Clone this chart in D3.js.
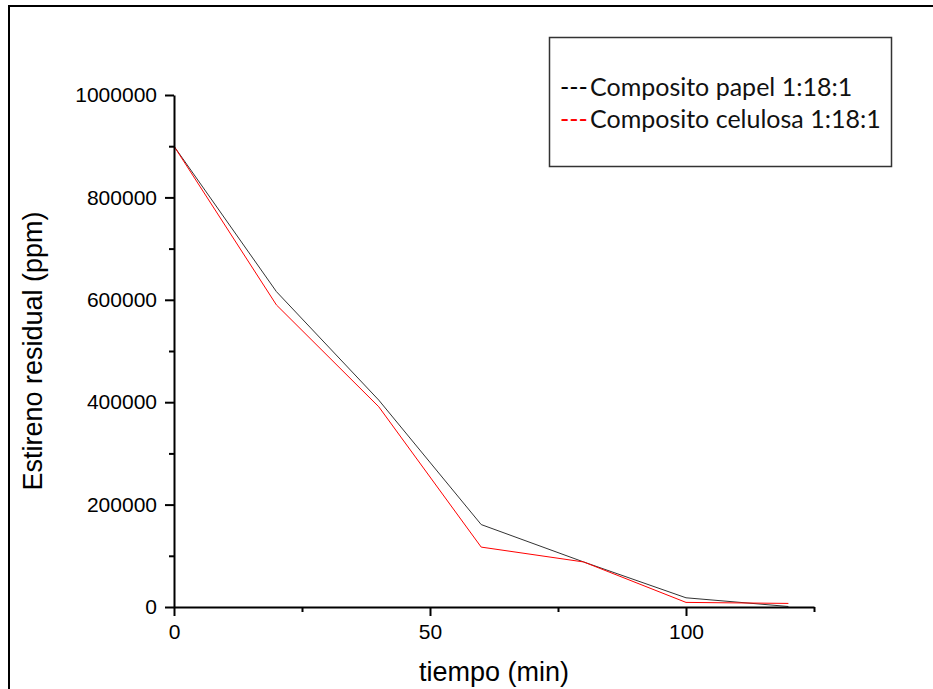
<!DOCTYPE html>
<html>
<head>
<meta charset="utf-8">
<script src="https://cdn.jsdelivr.net/npm/d3@7"></script>
<style>
  body { margin: 0; background: #fff; }
</style>
</head>
<body>
<div id="chart-area"></div>
<script>
// tiempo (min)
var tiempo = [0, 20, 40, 60, 80, 100, 120];
var papel = [900000, 616000, 404000, 161000, 88000, 18000, 1000];
var celulosa = [900000, 590000, 391000, 117000, 88000, 9000, 7000];
var seriesNames = ["Composito papel 1:18:1", "Composito celulosa 1:18:1"];
var seriesColors = ["#333333", "#ff0000"];
var xTicks = [0, 50, 100];
var xMinor = [25, 75, 125];
var yTicks = [0, 200000, 400000, 600000, 800000, 1000000];
var yMinor = [100000, 300000, 500000, 700000, 900000];

var width = 933;
var height = 689;
var margin = { top: 95, right: 119, bottom: 82, left: 174 };
var charWidth = 814 - margin.left;
var charHeight = 607 - margin.top;

var svg = d3.select("#chart-area")
  .append("svg")
  .attr("width", width)
  .attr("height", height);

// outer frame (top + left only)
svg.append("path")
  .attr("d", "M9,689 V6 H933")
  .attr("fill", "none")
  .attr("stroke", "#000")
  .attr("stroke-width", 2);

var g = svg.append("g")
  .attr("transform", "translate(" + margin.left + ", " + margin.top + ")");

var x = d3.scaleLinear()
  .domain([0, 125])
  .range([0, charWidth]);

var y = d3.scaleLinear()
  .domain([0, 1000000])
  .range([charHeight, 0]);

var series = [papel, celulosa];
var line = d3.line()
  .x((d, i) => x(tiempo[i]))
  .y(d => y(d));

g.selectAll(".serie")
  .data(series).enter()
  .append("path")
  .attr("class", "serie")
  .attr("d", d => line(d))
  .attr("fill", "none")
  .attr("stroke", (d, i) => seriesColors[i])
  .attr("stroke-width", 1);

// minor ticks
g.append("g")
  .attr("transform", "translate(0, " + charHeight + ")")
  .call(d3.axisBottom(x).tickValues(xMinor).tickSize(5).tickFormat(""))
  .call(a => a.select(".domain").remove())
  .selectAll("line").attr("stroke-width", 2);

g.append("g")
  .call(d3.axisLeft(y).tickValues(yMinor).tickSize(5).tickFormat(""))
  .call(a => a.select(".domain").remove())
  .selectAll("line").attr("stroke-width", 2);

var bottomAxis = d3.axisBottom(x).tickValues(xTicks).tickSize(9).tickSizeOuter(0).tickPadding(8);
var xAxis = g.append("g")
  .attr("class", "x axis")
  .attr("transform", "translate(0, " + charHeight + ")")
  .call(bottomAxis);

var leftAxis = d3.axisLeft(y).tickValues(yTicks).tickSize(9).tickSizeOuter(0).tickPadding(8).tickFormat(d3.format("d"));
var yAxis = g.append("g")
  .attr("class", "y axis")
  .call(leftAxis);

[xAxis, yAxis].forEach(a => {
  a.select(".domain").attr("stroke-width", 2);
  a.selectAll("line").attr("stroke-width", 2);
  a.selectAll("text")
    .attr("font-family", "'Liberation Sans', Arial, sans-serif")
    .attr("font-size", "21px")
    .attr("fill", "#000");
});

svg.append("text")
  .attr("x", -(margin.top + charHeight / 2))
  .attr("y", 42)
  .attr("text-anchor", "middle")
  .attr("transform", "rotate(-90)")
  .attr("font-family", "'Liberation Sans', Arial, sans-serif")
  .attr("font-size", "27px")
  .text("Estireno residual (ppm)");

svg.append("text")
  .attr("x", margin.left + x(62.5))
  .attr("y", 681)
  .attr("text-anchor", "middle")
  .attr("font-family", "'Liberation Sans', Arial, sans-serif")
  .attr("font-size", "27px")
  .text("tiempo (min)");

// legend
var legend = svg.append("g");
legend.append("rect")
  .attr("x", 549.5)
  .attr("y", 37.5)
  .attr("width", 342)
  .attr("height", 129)
  .attr("fill", "none")
  .attr("stroke", "#333")
  .attr("stroke-width", 1.5);

var items = legend.selectAll(".item")
  .data(seriesNames).enter()
  .append("text")
  .attr("class", "item")
  .attr("x", 560)
  .attr("y", (d, i) => 96 + i * 32)
  .attr("font-family", "Lato, 'Open Sans', sans-serif")
  .attr("font-size", "25px")
  .attr("fill", "#111");

items.append("tspan")
  .attr("fill", (d, i) => seriesColors[i] == "#333333" ? "#000" : seriesColors[i])
  .text("---");
items.append("tspan")
  .attr("x", 590)
  .text(d => d);
</script>
</body>
</html>
